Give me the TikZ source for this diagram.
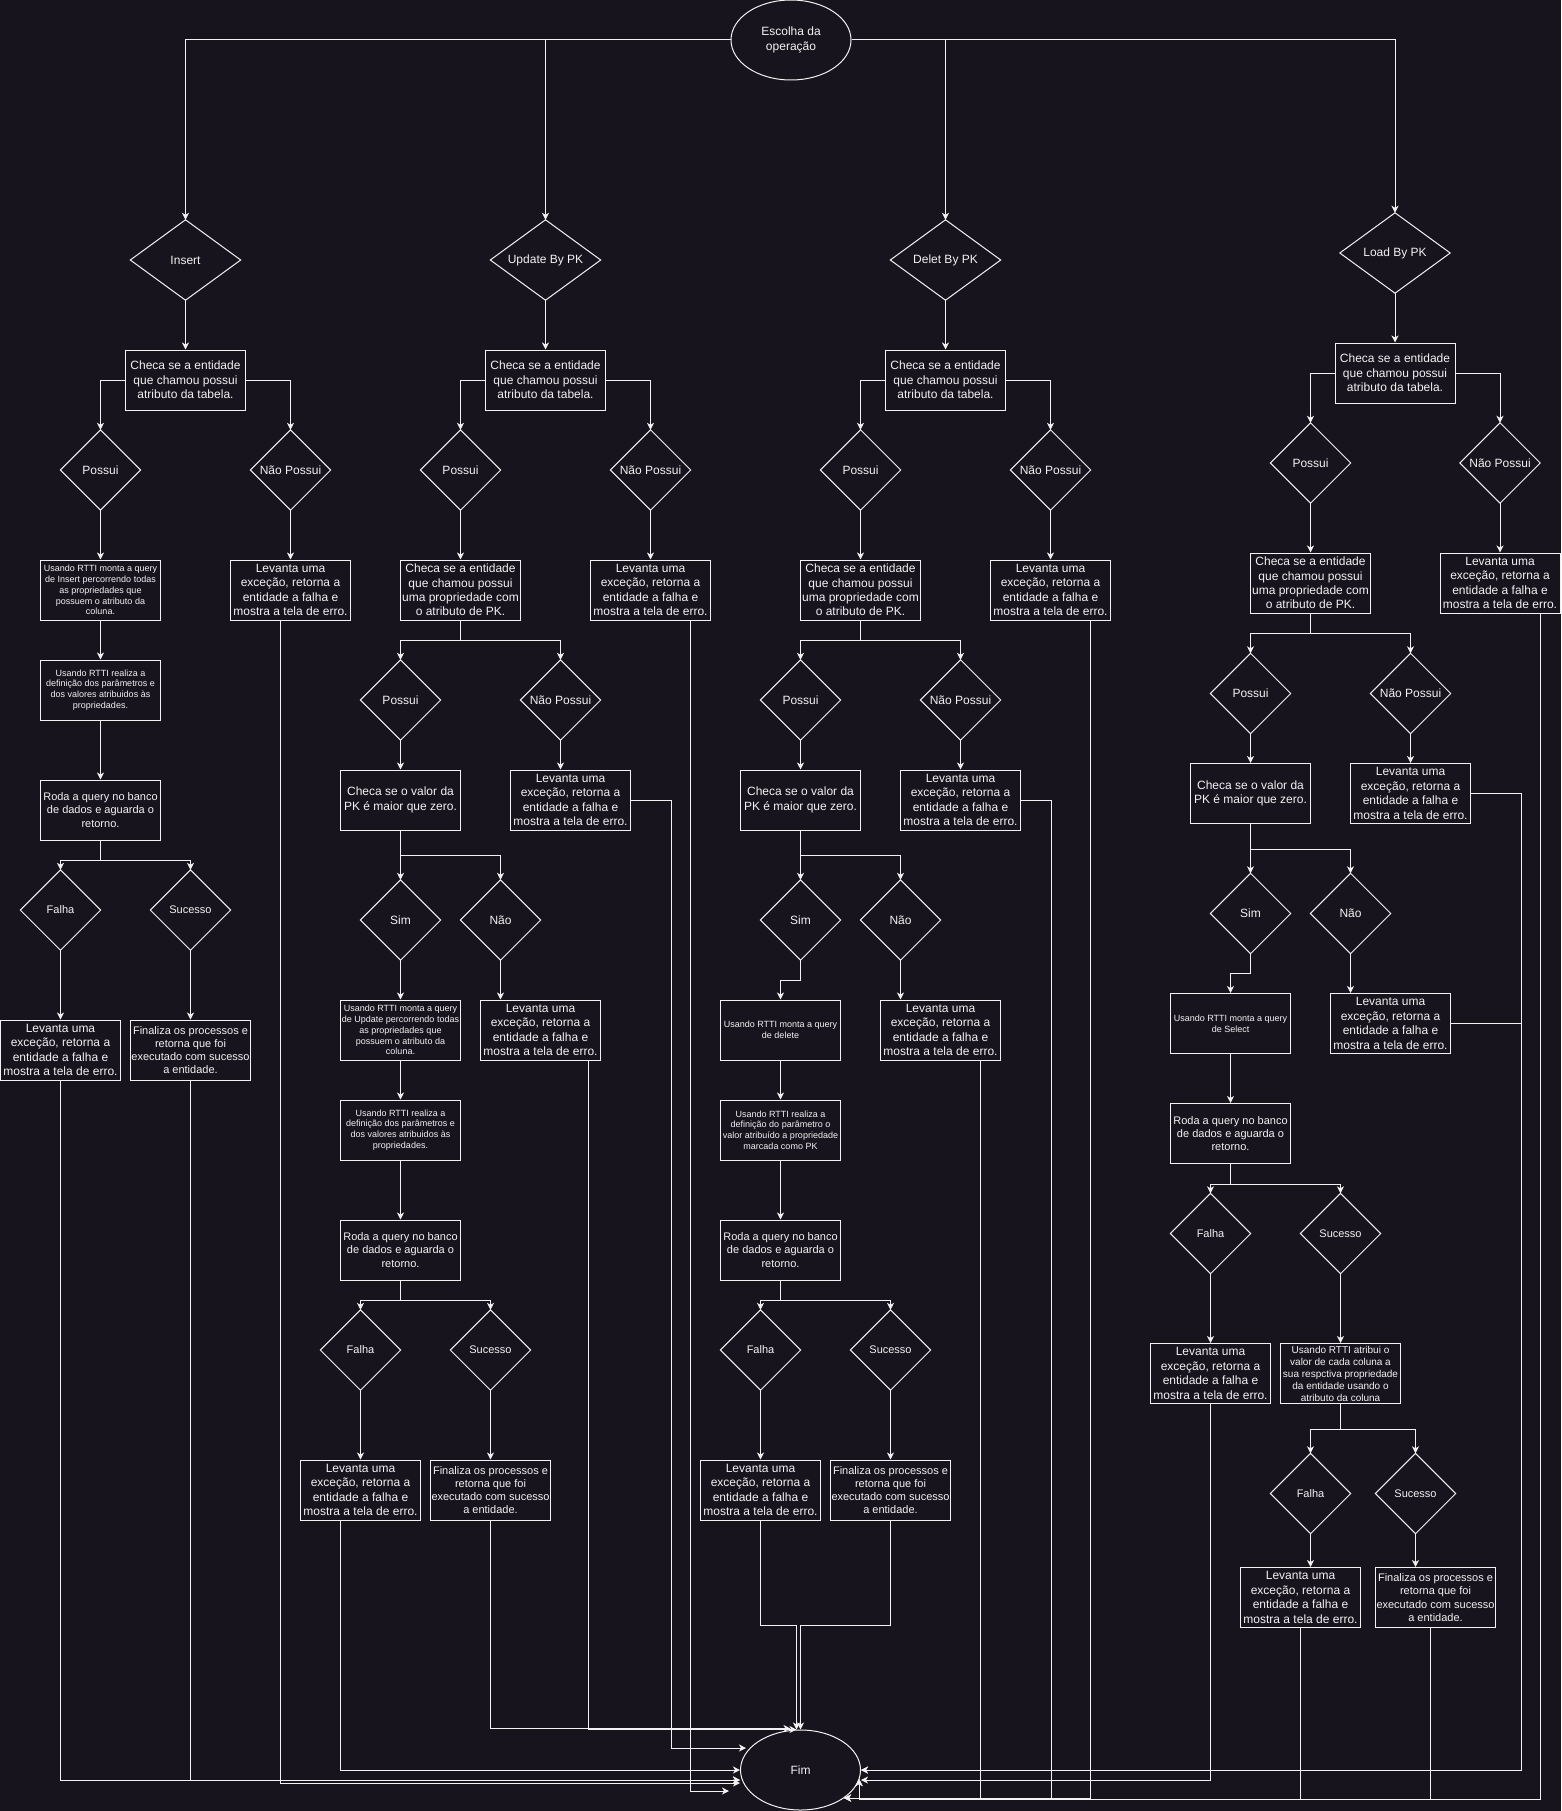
\documentclass[tikz,border=0pt]{standalone}
\usepackage{fontspec}
\setmainfont{Liberation Sans}
\usetikzlibrary{shapes.geometric,arrows.meta}
\definecolor{bg}{HTML}{18141D}
\definecolor{fg}{HTML}{F2F2F2}
\newcommand{\txtTab}{Checa se a entidade\\que chamou possui\\atributo da tabela.}
\newcommand{\txtPK}{Checa se a entidade\\que chamou possui\\uma propriedade com\\o atributo de PK.}
\newcommand{\txtLev}{Levanta uma\\exceção, retorna a\\entidade a falha e\\mostra a tela de erro.}
\newcommand{\txtVal}{Checa se o valor da\\PK é maior que zero.}
\newcommand{\txtRoda}{Roda a query no banco\\de dados e aguarda o\\retorno.}
\newcommand{\txtFin}{Finaliza os processos e\\retorna que foi\\executado com sucesso\\a entidade.}
\newcommand{\txtReal}{Usando RTTI realiza a\\definição dos parâmetros e\\dos valores atribuidos às\\propriedades.}
\begin{document}
\begin{tikzpicture}[x=1pt,y=-1pt,
  t12/.style={font=\fontsize{12pt}{14.4pt}\selectfont},
  t11/.style={font=\fontsize{11pt}{13.2pt}\selectfont},
  t10/.style={font=\fontsize{10pt}{12pt}\selectfont},
  t9/.style={font=\fontsize{9pt}{10.8pt}\selectfont},
  box/.style={draw=fg, line width=1pt, text=fg, minimum width=120pt, minimum height=60pt, inner sep=0pt, align=center},
  dia/.style={text=fg, minimum width=80pt, minimum height=80pt, inner sep=0pt, align=center},
  wdia/.style={dia, minimum width=110pt, t12},
  ell/.style={ellipse, draw=fg, line width=1pt, text=fg, minimum width=120pt, minimum height=80pt, inner sep=0pt, align=center, t12},
  lin/.style={draw=fg, line width=1pt},
  arr/.style={draw=fg, line width=1pt, -{Stealth[length=7pt,width=7pt,inset=2pt]}},
]
\useasboundingbox (0,0) rectangle (1561,1811);
\fill[bg] (0,0) rectangle (1561,1811);

% ---------- top ----------
\node[ell] (esc) at (791,40) {Escolha da\\operação};
\node[wdia] (iD) at (185.5,260) {Insert};
\node[wdia] (uD) at (545.5,260) {Update By PK};
\node[wdia] (dD) at (945.5,260) {Delet By PK};
\node[wdia] (lD) at (1395,253) {Load By PK};

\node[box,t12] (iC) at (185.5,380) {\txtTab};
\node[box,t12] (uC) at (545.5,380) {\txtTab};
\node[box,t12] (dC) at (945.5,380) {\txtTab};
\node[box,t12] (lC) at (1395,373) {\txtTab};

\node[dia,t12] (iP) at (100.5,470) {Possui};
\node[dia,t12] (iN) at (290.5,470) {Não Possui};
\node[dia,t12] (uP) at (460.5,470) {Possui};
\node[dia,t12] (uN) at (650.5,470) {Não Possui};
\node[dia,t12] (dP) at (860.5,470) {Possui};
\node[dia,t12] (dN) at (1050.5,470) {Não Possui};
\node[dia,t12] (lP) at (1310.5,463) {Possui};
\node[dia,t12] (lN) at (1500,463) {Não Possui};

\node[box,t9] (iM) at (100.5,590) {Usando RTTI monta a query\\de Insert percorrendo todas\\as propriedades que\\possuem o atributo da\\coluna.};
\node[box,t12] (iE) at (290.5,590) {\txtLev};
\node[box,t12] (uK) at (460.5,590) {\txtPK};
\node[box,t12] (uE) at (650.5,590) {\txtLev};
\node[box,t12] (dK) at (860.5,590) {\txtPK};
\node[box,t12] (dE) at (1050.5,590) {\txtLev};
\node[box,t12] (lK) at (1310.5,583) {\txtPK};
\node[box,t12] (lE) at (1500,583) {\txtLev};

% ---------- Insert ----------
\node[box,t9] (iR) at (100.5,690) {\txtReal};
\node[box,t11] (iQ) at (100.5,810) {\txtRoda};
\node[dia,t11] (iF) at (60.5,910) {Falha};
\node[dia,t11] (iS) at (190.5,910) {Sucesso};
\node[box,t12] (iFE) at (60.5,1050) {\txtLev};
\node[box,t11] (iSE) at (190.5,1050) {\txtFin};

% ---------- Update ----------
\node[dia,t12] (uP2) at (400.5,700) {Possui};
\node[dia,t12] (uN2) at (560.5,700) {Não Possui};
\node[box,t12] (uV) at (400.5,800) {\txtVal};
\node[box,t12] (uE2) at (570.5,800) {\txtLev};
\node[dia,t12] (uY) at (400.5,920) {Sim};
\node[dia,t12] (uX) at (500.5,920) {Não};
\node[box,t9] (uM) at (400.5,1030) {Usando RTTI monta a query\\de Update percorrendo todas\\as propriedades que\\possuem o atributo da\\coluna.};
\node[box,t12] (uE3) at (540.5,1030) {\txtLev};
\node[box,t9] (uR) at (400.5,1130) {\txtReal};
\node[box,t11] (uQ) at (400.5,1250) {\txtRoda};
\node[dia,t11] (uF) at (360.5,1350) {Falha};
\node[dia,t11] (uS) at (490.5,1350) {Sucesso};
\node[box,t12] (uFE) at (360.5,1490) {\txtLev};
\node[box,t11] (uSE) at (490.5,1490) {\txtFin};

% ---------- Delet ----------
\node[dia,t12] (dP2) at (800.5,700) {Possui};
\node[dia,t12] (dN2) at (960.5,700) {Não Possui};
\node[box,t12] (dV) at (800.5,800) {\txtVal};
\node[box,t12] (dE2) at (960.5,800) {\txtLev};
\node[dia,t12] (dY) at (800.5,920) {Sim};
\node[dia,t12] (dX) at (900.5,920) {Não};
\node[box,t9] (dM) at (780.5,1030) {Usando RTTI monta a query\\de delete};
\node[box,t12] (dE3) at (940.5,1030) {\txtLev};
\node[box,t9] (dR) at (780.5,1130) {Usando RTTI realiza a\\definição do parâmetro o\\valor atribuído a propriedade\\marcada como PK};
\node[box,t11] (dQ) at (780.5,1250) {\txtRoda};
\node[dia,t11] (dF) at (760.5,1350) {Falha};
\node[dia,t11] (dS) at (890.5,1350) {Sucesso};
\node[box,t12] (dFE) at (760.5,1490) {\txtLev};
\node[box,t11] (dSE) at (890.5,1490) {\txtFin};

% ---------- Load ----------
\node[dia,t12] (lP2) at (1250.5,693.5) {Possui};
\node[dia,t12] (lN2) at (1410.5,693.5) {Não Possui};
\node[box,t12] (lV) at (1250.5,793.5) {\txtVal};
\node[box,t12] (lE2) at (1410.5,793.5) {\txtLev};
\node[dia,t12] (lY) at (1250.5,913.5) {Sim};
\node[dia,t12] (lX) at (1350.5,913.5) {Não};
\node[box,t9] (lM) at (1230.5,1023.5) {Usando RTTI monta a query\\de Select};
\node[box,t12] (lE3) at (1390.5,1023.5) {\txtLev};
\node[box,t11] (lQ) at (1230.5,1133.5) {\txtRoda};
\node[dia,t11] (lF) at (1210.5,1233.5) {Falha};
\node[dia,t11] (lS) at (1340.5,1233.5) {Sucesso};
\node[box,t12] (lFE) at (1210.5,1373.5) {\txtLev};
\node[box,t10] (lA) at (1340.5,1373.5) {Usando RTTI atribui o\\valor de cada coluna a\\sua respctiva propriedade\\da entidade usando o\\atributo da coluna};
\node[dia,t11] (lF2) at (1310.5,1493.5) {Falha};
\node[dia,t11] (lS2) at (1415.5,1493.5) {Sucesso};
\node[box,t12] (lFE2) at (1300.5,1597.5) {\txtLev};
\node[box,t11] (lSE2) at (1435.5,1597.5) {\txtFin};

% ---------- end ----------
\node[ell] (fim) at (800.5,1770) {Fim};
\coordinate (fimA) at (844,1798);
\coordinate (fimB) at (859,1779);

% diamond outlines
\foreach \n in {iD,uD,dD,lD,iP,iN,uP,uN,dP,dN,lP,lN,uP2,uN2,dP2,dN2,lP2,lN2,uY,uX,dY,dX,lY,lX,iF,iS,uF,uS,dF,dS,lF,lS,lF2,lS2}
  \draw[lin] (\n.north) -- (\n.east) -- (\n.south) -- (\n.west) -- cycle;

% ---------- connectors: top ----------
\draw[arr] (esc.west) -| (iD.north);
\draw[arr] (esc.west) -| (uD.north);
\draw[arr] (esc.east) -| (dD.north);
\draw[arr] (esc.east) -| (lD.north);
\foreach \c in {i,u,d,l}{
  \draw[arr] (\c D.south) -- (\c C.north);
  \draw[arr] (\c C.west) -| (\c P.north);
  \draw[arr] (\c C.east) -| (\c N.north);
  \draw[arr] (\c N.south) -- (\c E.north);
}
\draw[arr] (iP.south) -- (iM.north);
\draw[arr] (uP.south) -- (uK.north);
\draw[arr] (dP.south) -- (dK.north);
\draw[arr] (lP.south) -- (lK.north);

% Insert
\draw[arr] (iM.south) -- (iR.north);
\draw[arr] (iR.south) -- (iQ.north);
\draw[arr] (iQ.south) -- ++(0,20) -| (iF.north);
\draw[arr] (iQ.south) -- ++(0,20) -| (iS.north);
\draw[arr] (iF.south) -- (iFE.north);
\draw[arr] (iS.south) -- (iSE.north);

% Update / Delet / Load (PK part)
\foreach \c in {u,d,l}{
  \draw[arr] (\c K.south) -- ++(0,20) -| (\c P2.north);
  \draw[arr] (\c K.south) -- ++(0,20) -| (\c N2.north);
  \draw[arr] (\c P2.south) -- (\c V.north);
  \draw[arr] (\c N2.south) -- (\c N2.south |- \c E2.north);
  \draw[arr] (\c V.south) -- ++(0,25) -| (\c Y.north);
  \draw[arr] (\c V.south) -- ++(0,25) -| (\c X.north);
  \draw[arr] (\c X.south) -- (\c X.south |- \c E3.north);
  \draw[arr] (\c F.south) -- (\c F.south |- \c FE.north);
}
\draw[arr] (uY.south) -- (uM.north);
\draw[arr] (dY.south) -- ++(0,20) -| (dM.north);
\draw[arr] (lY.south) -- ++(0,20) -| (lM.north);

\draw[arr] (uM.south) -- (uR.north);
\draw[arr] (uR.south) -- (uQ.north);
\draw[arr] (dM.south) -- (dR.north);
\draw[arr] (dR.south) -- (dQ.north);
\draw[arr] (lM.south) -- (lQ.north);
\foreach \c in {u,d,l}{
  \draw[arr] (\c Q.south) -- ++(0,20) -| (\c F.north);
  \draw[arr] (\c Q.south) -- ++(0,20) -| (\c S.north);
}
\draw[arr] (uS.south) -- (uSE.north);
\draw[arr] (dS.south) -- (dSE.north);
\draw[arr] (lS.south) -- (lA.north);
\draw[arr] (lA.south) -- ++(0,25) -| (lF2.north);
\draw[arr] (lA.south) -- ++(0,25) -| (lS2.north);
\draw[arr] (lF2.south) -- (lF2.south |- lFE2.north);
\draw[arr] (lS2.south) -- (lS2.south |- lSE2.north);

% ---------- connectors into Fim ----------
\draw[arr] (iFE.south) |- ([yshift=-10pt]fim.west);
\draw[arr] (iSE.south) |- ([yshift=-10pt]fim.west);
\draw[arr] ([xshift=-10pt]iE.south) |- ([yshift=-13pt]fim.west);
\draw[arr] ([xshift=-20pt]uFE.south) |- (fim.west);
\draw[arr] (uE2.east) -- ++(40,0) |- ([xshift=6pt,yshift=22pt]fim.west);
\draw[arr] ([xshift=40pt]uE.south) |- ([xshift=-11pt,yshift=-21pt]fim.west);
\draw[arr] (uSE.south) |- ([xshift=-10pt,yshift=1pt]fim.north);
\draw[arr] ([xshift=48pt]uE3.south) |- ([xshift=-4pt]fim.north);
\draw[arr] (dFE.south) -- ++(0,105) -| ([xshift=-4pt]fim.north);
\draw[arr] (dSE.south) -- ++(0,105) -| (fim.north);
\draw[arr] (lE2.east) -- ++(50.2,0) |- (fim.east);
\draw[arr] (lE3.east) -- ++(70.2,0) |- (fim.east);
\draw[arr] (lFE.south) |- ([yshift=-10pt]fim.east);
\draw[arr] ([xshift=40pt]dE3.south) |- (fimA);
\draw[arr] (dE2.east) -- ++(30,0) |- (fimA);
\draw[arr] ([xshift=40pt]dE.south) |- (fimA);
\draw[arr] (lFE2.south) |- ([yshift=-20pt]fimB) -- (fimB);
\draw[arr] ([xshift=-5pt]lSE2.south) |- ([yshift=-20pt]fimB) -- (fimB);
\draw[arr] ([xshift=40.6pt]lE.south) |- ([yshift=-20pt]fimB) -- (fimB);
\end{tikzpicture}
\end{document}
